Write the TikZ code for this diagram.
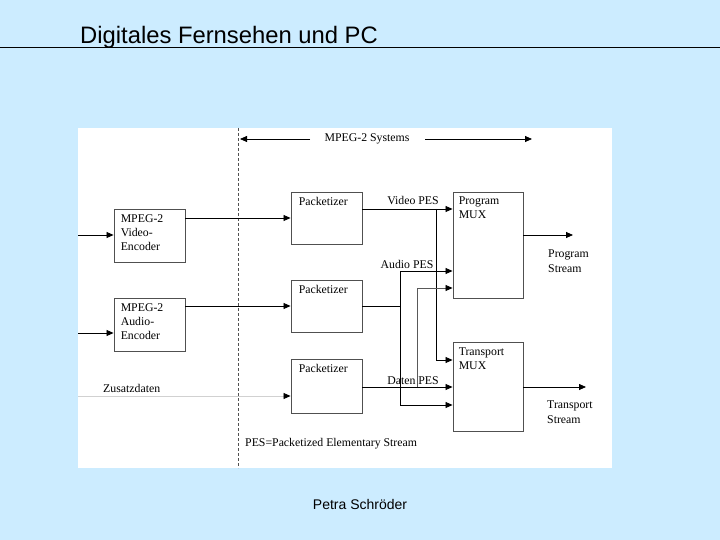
\documentclass[tikz,border=0pt]{standalone}
\usepackage{fontspec}
\setmainfont{Liberation Serif}
\newfontfamily\arialf{Liberation Sans}
\usetikzlibrary{arrows.meta}
\definecolor{bgblue}{RGB}{204,236,255}
\definecolor{boxgray}{RGB}{80,80,80}
\tikzset{
  blk/.style={draw=boxgray, line width=0.9pt, fill=white, inner sep=0pt},
  blktext/.style={anchor=north west, inner sep=0pt, align=left, font=\fontsize{11.8}{14.2}\selectfont},
  lbl/.style={inner sep=0pt, align=left, font=\fontsize{11.8}{14.2}\selectfont},
  arr/.style={line width=0.8pt, -{Triangle[length=7pt,width=6pt]}},
  ln/.style={line width=0.8pt},
}
\begin{document}
\begin{tikzpicture}[x=1pt,y=-1pt]
\useasboundingbox (0,0) rectangle (720,540);
\fill[bgblue] (0,0) rectangle (720,540);
% title
\node[anchor=base west, inner sep=0pt, font=\arialf\fontsize{23.8}{26}\selectfont] (title) at (80,44) {Digitales Fernsehen und PC};
\draw[line width=0.9pt] (0,47) -- (720,47);
% panel
\fill[white] (78,128) rectangle (612,468);
% dashed separator
\coordinate (dtop) at (238,128);
\coordinate (dbot) at (238,468);
\draw[boxgray, line width=0.8pt, dash pattern=on 3pt off 2pt] (dtop) -- (dbot);
% MPEG-2 Systems
\node[lbl] (sys) at (367,139) {MPEG-2 Systems};
\coordinate (sysl) at (240,139);
\coordinate (sysr) at (532,139);
\draw[arr] (310,139) -- (sysl);
\draw[arr] (425,139) -- (sysr);
% boxes
\node[blk, minimum width=71pt, minimum height=53pt] (venc) at (149.5,235.5) {};
\node[blktext] (venct) at ([shift={(7,6)}]venc.north west) {MPEG-2\\Video-\\Encoder};
\node[blk, minimum width=71pt, minimum height=53pt] (aenc) at (149.5,324.5) {};
\node[blktext] (aenct) at ([shift={(7,6)}]aenc.north west) {MPEG-2\\Audio-\\Encoder};
\node[blk, minimum width=71pt, minimum height=52pt] (pk1) at (326.5,218) {};
\node[blktext] (pk1t) at ([shift={(8,6)}]pk1.north west) {Packetizer};
\node[blk, minimum width=71pt, minimum height=52pt] (pk2) at (326.5,306) {};
\node[blktext] (pk2t) at ([shift={(8,6)}]pk2.north west) {Packetizer};
\node[blk, minimum width=71pt, minimum height=54pt] (pk3) at (326.5,386) {};
\node[blktext] (pk3t) at ([shift={(8,6)}]pk3.north west) {Packetizer};
\node[blk, minimum width=70pt, minimum height=106pt] (pmux) at (488,245) {};
\node[blktext] (pmuxt) at ([shift={(6,5)}]pmux.north west) {Program\\MUX};
\node[blk, minimum width=70pt, minimum height=89pt] (tmux) at (488,386.5) {};
\node[blktext] (tmuxt) at ([shift={(6,6)}]tmux.north west) {Transport\\MUX};
% inputs
\coordinate (vin) at (78,235);
\coordinate (ain) at (78,333);
\coordinate (zin) at (78,396);
\draw[arr] (vin) -- (vin -| venc.west);
\draw[arr] (ain) -- (ain -| aenc.west);
\draw[line width=0.6pt, black!18] (zin) -- ([xshift=-6pt]zin -| pk3.west);
\draw[arr, black!18, -{Triangle[length=7pt,width=6pt,fill=black,color=black]}] ([xshift=-8pt]zin -| pk3.west) -- (zin -| pk3.west);
\node[lbl, anchor=base west] (zus) at (103,392) {Zusatzdaten};
% encoder -> packetizer
\draw[arr] (venc.east |- pk1.west) -- (pk1.west);
\draw[arr] (aenc.east |- pk2.west) -- (pk2.west);
% helper coordinates
\coordinate (y360) at (436,360);
\coordinate (y271) at (400,271);
\coordinate (y405) at (400,405);
\coordinate (y288) at (417,288);
% Video PES
\coordinate (vpes) at (362,209);
\coordinate (vx) at (436,209);
\draw[arr] (vpes) -- (vpes -| pmux.west);
\draw[arr] (vx) -- (y360) -- (y360 -| tmux.west);
\node[lbl, anchor=base] (vpesl) at (413,205) {Video PES};
% Audio PES
\coordinate (apes) at (362,306);
\coordinate (ax) at (400,306);
\draw[ln] (apes) -- (ax);
\draw[arr] (ax) -- (y271) -- (y271 -| pmux.west);
\draw[arr] (ax) -- (y405) -- (y405 -| tmux.west);
\node[lbl, anchor=base] (apesl) at (407,268) {Audio PES};
% Daten PES
\coordinate (dpes) at (362,387);
\coordinate (dx) at (417,387);
\draw[arr] (dpes) -- (dpes -| tmux.west);
\draw[arr, black!65, -{Triangle[length=7pt,width=6pt,fill=black,color=black]}] (dx) -- (y288) -- (y288 -| pmux.west);
\node[lbl, anchor=base] (dpesl) at (413,384) {Daten PES};
% outputs
\coordinate (pout) at (573,235);
\coordinate (tout) at (586,387);
\draw[arr] (pmux.east |- pout) -- (pout);
\draw[arr] (tmux.east |- tout) -- (tout);
\node[lbl, anchor=north west] (ps) at (548,250) {Program\\Stream};
\node[lbl, anchor=north west] (ts) at (547,401) {Transport\\Stream};
% footnote
\node[lbl, anchor=base west] (pesn) at (245,446) {PES=Packetized Elementary Stream};
% footer
\node[font=\arialf\fontsize{14}{16}\selectfont, inner sep=0pt] (foot) at (360,504) {Petra Schröder};
\end{tikzpicture}
\end{document}
